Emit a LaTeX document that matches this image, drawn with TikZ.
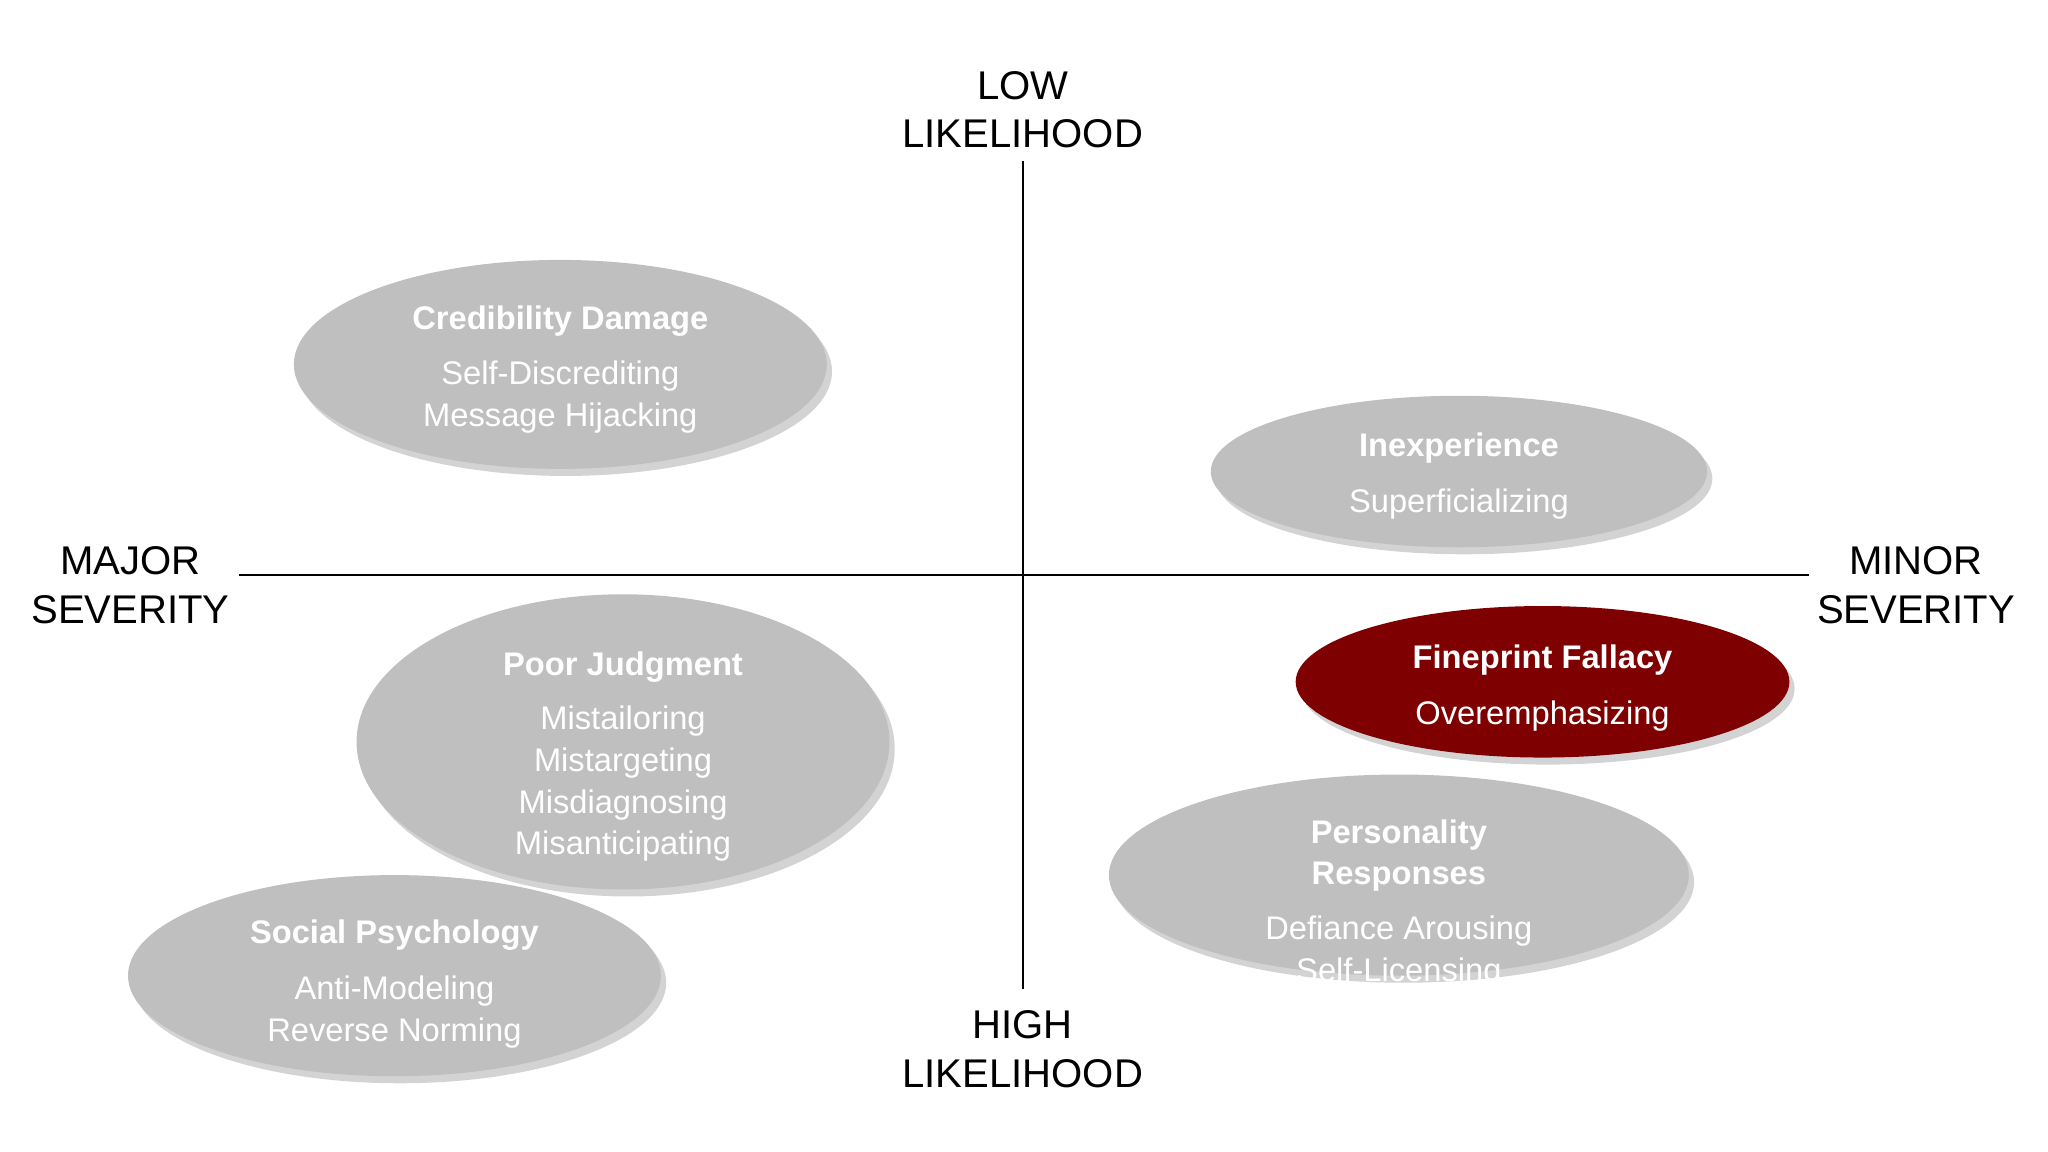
\documentclass[tikz,border=0pt]{standalone}
\usepackage{fontspec}
\setmainfont{Liberation Sans}
\usetikzlibrary{shadows}
\definecolor{blobgray}{HTML}{BFBFBF}
\definecolor{blobred}{HTML}{7F0000}
\tikzset{
  blob/.style={fill=blobgray, drop shadow={shadow xshift=1.5pt,shadow yshift=-2pt,opacity=0.35}},
  redblob/.style={fill=blobred, drop shadow={shadow xshift=1.5pt,shadow yshift=-2pt,opacity=0.35}},
  ttl/.style={text=white, font=\fontsize{9.3}{11.9}\selectfont\bfseries, align=center},
  sub/.style={text=white, font=\fontsize{9.3}{11.9}\selectfont, align=center},
  axlab/.style={font=\fontsize{11.4}{13.9}\selectfont, align=center},
  axis/.style={line width=0.5pt}
}
\begin{document}
\begin{tikzpicture}[x=0.01306cm,y=-0.01306cm]
\useasboundingbox (0,0) rectangle (1568,882);
% axes
\coordinate (vt) at (783,123); \coordinate (vb) at (783,757);
\coordinate (hl) at (183,440); \coordinate (hr) at (1385,440);
\draw[axis] (vt) -- (vb);
\draw[axis] (hl) -- (hr);
\node[axlab] (low) at (783,84) {LOW\\LIKELIHOOD};
\node[axlab] (high) at (783,803) {HIGH\\LIKELIHOOD};
\node[axlab] (major) at (100,448) {MAJOR\\SEVERITY};
\node[axlab] (minor) at (1467,448) {MINOR\\SEVERITY};
% blobs
\fill[blob] (429,279) ellipse [x radius=204, y radius=80];
\fill[blob] (1117,361) ellipse [x radius=190, y radius=58];
\fill[redblob] (1181,522) ellipse [x radius=189, y radius=58];
\fill[blob] (477,568) ellipse [x radius=204, y radius=113];
\fill[blob] (302,747) ellipse [x radius=204, y radius=77];
\fill[blob] (1071,670) ellipse [x radius=222, y radius=77];
% texts
\node[ttl] (cdt) at (429,246) {Credibility Damage};
\node[sub] (cds) at (429,304) {Self-Discrediting\\Message Hijacking};
\node[ttl] (ixt) at (1117,343) {Inexperience};
\node[sub] (ixs) at (1117,386) {Superficializing};
\node[ttl] (fft) at (1181,505) {Fineprint Fallacy};
\node[sub] (ffs) at (1181,548) {Overemphasizing};
\node[ttl] (pjt) at (477,511) {Poor Judgment};
\node[sub] (pjs) at (477,600) {Mistailoring\\Mistargeting\\Misdiagnosing\\Misanticipating};
\node[ttl] (spt) at (302,716) {Social Psychology};
\node[sub] (sps) at (302,775) {Anti-Modeling\\Reverse Norming};
\node[ttl] (prt) at (1071,655) {Personality\\Responses};
\node[sub] (prs) at (1071,729) {Defiance Arousing\\Self-Licensing};
\end{tikzpicture}
\end{document}
